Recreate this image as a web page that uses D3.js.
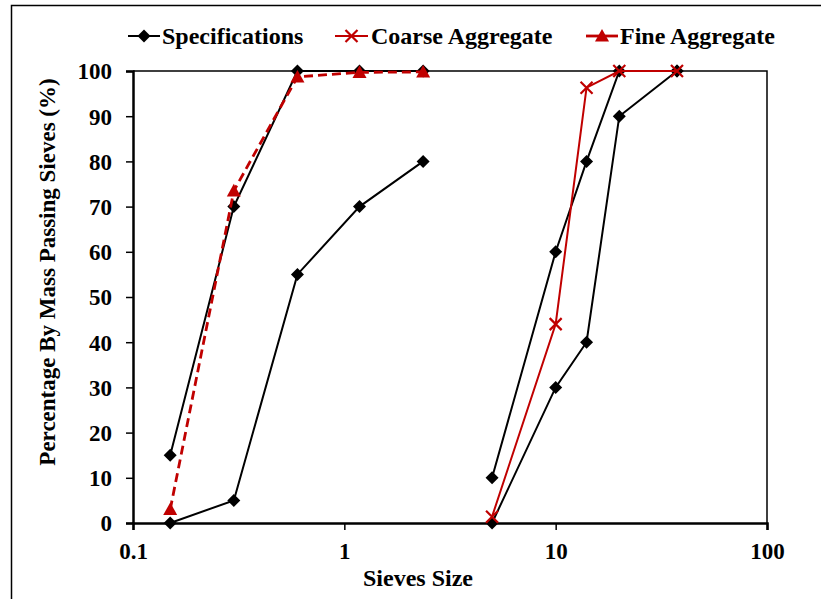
<!DOCTYPE html>
<html><head><meta charset="utf-8">
<script src="https://cdn.jsdelivr.net/npm/d3@7"></script>
<style>body{margin:0;background:#fff;} svg{display:block;font-family:"Liberation Serif","Times New Roman",serif;font-weight:bold;}</style>
</head><body>
<script>
const sievesFine = [0.15, 0.3, 0.6, 1.18, 2.36];
const sievesCoarse = [5, 10, 14, 20, 37.5];
const specFineUpper = [15, 70, 100, 100, 100];
const specFineLower = [0, 5, 55, 70, 80];
const specCoarseUpper = [10, 60, 80, 100, 100];
const specCoarseLower = [0, 30, 40, 90, 100];
const coarseAggregate = [1.4, 44, 96.3, 100, 100];
const fineAggregate = [3, 73.5, 98.7, 99.7, 99.8];
const xTicks = [0.1, 1, 10, 100];
const yTicks = [0, 10, 20, 30, 40, 50, 60, 70, 80, 90, 100];
const legendLabels = ["Specifications", "Coarse Aggregate", "Fine Aggregate"];

const W = 821, H = 599;
const m = {left: 133, top: 71, right: 767, bottom: 523};
const red = "#c00000";

const svg = d3.select("body").append("svg").attr("width", W).attr("height", H);
svg.append("rect").attr("x", 11.5).attr("y", 5.5).attr("width", 820).attr("height", 610)
  .attr("fill", "none").attr("stroke", "#000").attr("stroke-width", 1.5);

const x = d3.scaleLog().domain([0.1, 100]).range([m.left, m.right]);
const y = d3.scaleLinear().domain([0, 100]).range([m.bottom, m.top]);

svg.append("path").attr("d", `M${m.left},${m.top}H${m.right}V${m.bottom}`)
  .attr("fill", "none").attr("stroke", "#000").attr("stroke-width", 1.5);

const xAxis = svg.append("g").attr("transform", `translate(0,${m.bottom})`)
  .call(d3.axisBottom(x).tickValues(xTicks).tickFormat(d => String(d)).tickSizeOuter(0).tickSize(7).tickPadding(13));
const yAxis = svg.append("g").attr("transform", `translate(${m.left},0)`)
  .call(d3.axisLeft(y).tickValues(yTicks).tickSizeOuter(0).tickSize(7).tickPadding(14));
[xAxis, yAxis].forEach(g => {
  g.select(".domain").attr("stroke-width", 2.5);
  g.selectAll(".tick line").attr("stroke-width", 1.5);
  g.selectAll("text").attr("font-family", "Liberation Serif, Times New Roman, serif")
    .attr("font-weight", "bold").attr("font-size", 23).attr("fill", "#000");
});
yAxis.selectAll("text").attr("dy", "0.34em");

const line = d3.line().x(d => x(d[0])).y(d => y(d[1]));
const dS = 6.5;
const diamondPath = `M0,${-dS}L${dS},0L0,${dS}L${-dS},0Z`;
const tS = 7;
const triPath = `M0,${-tS}L${tS},${tS * 0.8}L${-tS},${tS * 0.8}Z`;

function drawSpec(xs, ys) {
  const pts = xs.map((v, i) => [v, ys[i]]);
  svg.append("path").attr("d", line(pts)).attr("fill", "none").attr("stroke", "#000").attr("stroke-width", 2);
  svg.selectAll(null).data(pts).enter().append("path")
    .attr("d", diamondPath).attr("transform", d => `translate(${x(d[0])},${y(d[1])})`).attr("fill", "#000");
}
drawSpec(sievesFine, specFineUpper);
drawSpec(sievesFine, specFineLower);
drawSpec(sievesCoarse, specCoarseUpper);
drawSpec(sievesCoarse, specCoarseLower);

function xMark(g, cx, cy, s) {
  g.append("path").attr("d", `M${cx - s},${cy - s}L${cx + s},${cy + s}M${cx - s},${cy + s}L${cx + s},${cy - s}`)
    .attr("stroke", red).attr("stroke-width", 2.2).attr("fill", "none");
}
const coarsePts = sievesCoarse.map((v, i) => [v, coarseAggregate[i]]);
svg.append("path").attr("d", line(coarsePts)).attr("fill", "none").attr("stroke", red).attr("stroke-width", 2);
coarsePts.forEach(d => xMark(svg, x(d[0]), y(d[1]), 6));

const finePts = sievesFine.map((v, i) => [v, fineAggregate[i]]);
svg.append("path").attr("d", line(finePts)).attr("fill", "none").attr("stroke", red)
  .attr("stroke-width", 2.8).attr("stroke-dasharray", "9,5");
svg.selectAll(null).data(finePts).enter().append("path")
  .attr("d", triPath).attr("transform", d => `translate(${x(d[0])},${y(d[1])})`).attr("fill", red);

// axis titles
svg.append("text").attr("x", 418).attr("y", 586).attr("text-anchor", "middle")
  .attr("font-size", 24).text("Sieves Size");
svg.append("text").attr("transform", "translate(55,272) rotate(-90)").attr("text-anchor", "middle")
  .attr("font-size", 23).text("Percentage By Mass Passing Sieves (%)");

// legend
const ly = 36;
const leg = [
  {x0: 128, x1: 160, tx: 162, type: "diamond"},
  {x0: 335, x1: 368, tx: 371, type: "x"},
  {x0: 586, x1: 618, tx: 620, type: "tri"}
];
leg.forEach((L, i) => {
  const col = i === 0 ? "#000" : red;
  svg.append("line").attr("x1", L.x0).attr("x2", L.x1).attr("y1", ly).attr("y2", ly)
    .attr("stroke", col).attr("stroke-width", i === 2 ? 2.8 : 2);
  const cx = (L.x0 + L.x1) / 2;
  if (L.type === "diamond") svg.append("path").attr("d", diamondPath).attr("transform", `translate(${cx},${ly})`).attr("fill", "#000");
  else if (L.type === "x") xMark(svg, cx, ly, 6);
  else svg.append("path").attr("d", triPath).attr("transform", `translate(${cx},${ly})`).attr("fill", red);
  svg.append("text").attr("x", L.tx).attr("y", ly + 8).attr("font-size", 24).text(legendLabels[i]);
});
</script>
</body></html>
